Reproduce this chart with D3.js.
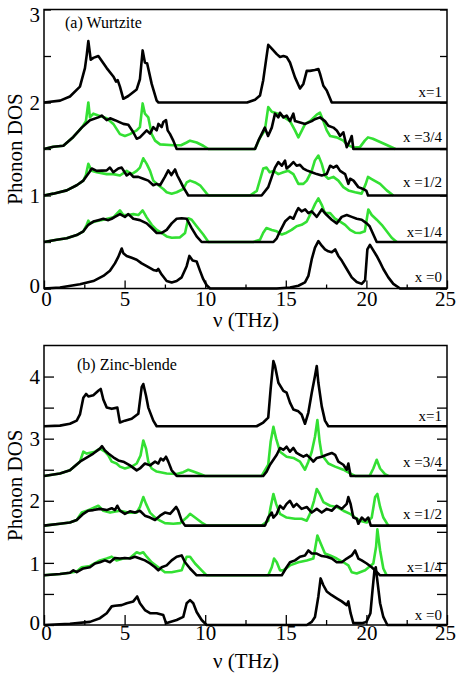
<!DOCTYPE html>
<html>
<head>
<meta charset="utf-8" />
<title>Phonon DOS</title>
<script src="https://cdnjs.cloudflare.com/ajax/libs/d3/7.8.5/d3.min.js"></script>
<style>
  body { margin: 0; background: #fff; }
  text { font-family: "Liberation Serif", "Times New Roman", serif; }
</style>
</head>
<body>
<div id="chart"></div>
<script>
// ---- data: [frequency (THz), DOS above the curve's baseline] ----
const compositions = ["x=1", "x =3/4", "x =1/2", "x=1/4", "x =0"];
const wzOffsets = [2, 1.5, 1, 0.5, 0];
const zbOffsets = [3.2, 2.4, 1.6, 0.8, 0];
const xTicks = [0, 5, 10, 15, 20, 25];

// (a) Wurtzite
const wzBlack1 = [[0,0],[1.0,0.02],[1.61,0.065],[2.23,0.17],[2.54,0.37],[2.65,0.51],[2.75,0.66],[2.9,0.46],[3.06,0.48],[3.37,0.5],[3.89,0.37],[4.3,0.28],[4.47,0.225],[4.57,0.24],[4.71,0.17],[4.92,0.04],[5.23,0.07],[5.75,0.14],[5.95,0.25],[6.12,0.56],[6.26,0.43],[6.4,0.42],[6.68,0.2],[6.99,0.02],[7.1,0],[12.6,0],[13.09,0.03],[13.4,0.075],[13.6,0.24],[13.77,0.45],[13.91,0.62],[14.13,0.58],[14.44,0.52],[14.64,0.49],[14.85,0.5],[15.05,0.49],[15.26,0.43],[15.57,0.27],[15.88,0.15],[16.09,0.2],[16.3,0.34],[16.5,0.34],[16.8,0.35],[17.02,0.36],[17.12,0.31],[17.33,0.18],[17.54,0.13],[17.85,0],[25,0]];
const wzBlack34 = [[0,0],[0.58,0.025],[1.2,0.035],[1.82,0.13],[2.34,0.23],[2.85,0.31],[3.37,0.34],[3.58,0.36],[3.89,0.31],[4.1,0.33],[4.4,0.31],[4.92,0.27],[5.23,0.26],[5.54,0.18],[5.75,0.11],[5.95,0.125],[6.37,0.2],[6.58,0.165],[6.78,0.235],[6.99,0.2],[7.1,0.27],[7.3,0.235],[7.4,0.29],[7.57,0.31],[7.67,0.2],[7.82,0.16],[8.02,0.09],[8.23,0],[13.09,0],[13.3,0.09],[13.5,0.16],[13.7,0.23],[13.9,0.14],[14.13,0.23],[14.33,0.38],[14.54,0.34],[14.64,0.39],[14.85,0.34],[15.05,0.36],[15.26,0.3],[15.47,0.38],[15.57,0.3],[15.78,0.29],[16.2,0.27],[16.61,0.3],[16.8,0.32],[17.12,0.34],[17.43,0.3],[17.64,0.25],[17.95,0.23],[18.16,0.2],[18.37,0.14],[18.57,0.18],[18.78,0.02],[18.98,0.09],[19.09,0.14],[19.19,0],[25,0]];
const wzGreen34 = [[0,0],[0.58,0.025],[1.2,0.035],[1.82,0.13],[2.34,0.23],[2.6,0.3],[2.75,0.5],[2.85,0.34],[3.06,0.38],[3.37,0.36],[3.89,0.33],[4.3,0.27],[4.71,0.16],[5.02,0.14],[5.33,0.16],[5.75,0.2],[5.95,0.235],[6.12,0.49],[6.26,0.38],[6.47,0.34],[6.68,0.16],[6.89,0.09],[7.2,0.05],[8.02,0.04],[8.5,0.04],[8.85,0.07],[9.06,0.09],[9.47,0.07],[9.88,0.035],[10.2,0],[13.09,0],[13.4,0.12],[13.7,0.2],[13.91,0.45],[14.13,0.4],[14.33,0.39],[14.64,0.37],[15.26,0.3],[15.57,0.2],[15.78,0.125],[16.0,0.2],[16.2,0.27],[16.5,0.3],[16.92,0.37],[17.12,0.39],[17.33,0.3],[17.54,0.2],[17.75,0.14],[18.16,0.125],[18.57,0.09],[18.78,0.05],[19.19,0.015],[19.6,0.02],[19.9,0.09],[20.1,0.125],[20.4,0.11],[20.85,0.075],[21.3,0.04],[21.8,0]];
const wzBlack12 = [[0,0],[0.58,0.02],[1.41,0.055],[2.03,0.11],[2.44,0.16],[2.81,0.25],[2.96,0.29],[3.27,0.265],[3.89,0.27],[4.09,0.3],[4.3,0.25],[4.61,0.29],[4.82,0.3],[5.13,0.215],[5.33,0.24],[5.54,0.2],[5.85,0.2],[6.16,0.18],[6.47,0.16],[6.78,0.11],[6.99,0.125],[7.2,0.11],[7.5,0.2],[7.71,0.27],[7.9,0.22],[8.13,0.28],[8.27,0.215],[8.44,0.16],[8.64,0.09],[8.95,0],[13.5,0],[13.91,0.09],[14.13,0.2],[14.33,0.3],[14.54,0.36],[14.75,0.32],[14.95,0.375],[15.05,0.29],[15.26,0.32],[15.47,0.36],[15.67,0.32],[15.88,0.33],[16.09,0.29],[16.3,0.27],[16.61,0.25],[16.92,0.23],[17.23,0.215],[17.54,0.23],[17.75,0.32],[17.95,0.3],[18.16,0.32],[18.37,0.265],[18.68,0.23],[18.88,0.125],[18.99,0.18],[19.2,0.16],[19.5,0.09],[19.8,0.07],[20.0,0.05],[20.1,0],[25,0]];
const wzGreen12 = [[0,0],[0.58,0.02],[1.41,0.055],[2.03,0.11],[2.44,0.16],[2.6,0.22],[2.75,0.34],[2.95,0.265],[3.27,0.25],[3.89,0.23],[4.3,0.23],[4.71,0.215],[5.13,0.265],[5.44,0.23],[5.75,0.265],[5.95,0.3],[6.16,0.4],[6.37,0.34],[6.58,0.265],[6.78,0.16],[7.1,0.11],[7.4,0.07],[7.61,0.035],[7.92,0.02],[8.23,0.035],[8.64,0.07],[8.85,0.14],[9.06,0.16],[9.37,0.14],[9.68,0.11],[10.1,0.02],[10.2,0],[12.78,0],[13.2,0.05],[13.6,0.29],[13.8,0.3],[14.0,0.25],[14.23,0.265],[14.54,0.23],[14.85,0.25],[15.16,0.265],[15.47,0.23],[15.78,0.125],[16.09,0.125],[16.3,0.16],[16.61,0.265],[16.8,0.375],[17.02,0.43],[17.23,0.34],[17.43,0.215],[17.64,0.18],[17.95,0.2],[18.26,0.16],[18.57,0.09],[18.88,0.055],[19.3,0.035],[19.7,0.02],[19.96,0.125],[20.1,0.2],[20.3,0.18],[20.85,0.125],[21.26,0.055],[21.67,0]];
const wzBlack14 = [[0,0],[0.79,0.025],[1.41,0.04],[2.03,0.075],[2.44,0.115],[2.75,0.185],[3.06,0.22],[3.37,0.235],[3.68,0.25],[3.99,0.235],[4.2,0.25],[4.4,0.27],[4.71,0.3],[5.02,0.27],[5.23,0.3],[5.54,0.25],[5.95,0.235],[6.37,0.2],[6.68,0.15],[6.99,0.097],[7.3,0.097],[7.61,0.13],[7.92,0.2],[8.23,0.25],[8.54,0.255],[8.85,0.25],[9.16,0.15],[9.47,0.06],[9.78,0],[14.23,0],[14.44,0.04],[14.64,0.115],[14.95,0.22],[15.26,0.27],[15.47,0.25],[15.67,0.33],[15.78,0.365],[15.98,0.33],[16.2,0.35],[16.4,0.31],[16.61,0.33],[16.92,0.27],[17.23,0.35],[17.54,0.29],[17.85,0.24],[18.16,0.2],[18.47,0.27],[18.78,0.29],[19.09,0.27],[19.4,0.25],[19.71,0.24],[20.02,0.2],[20.2,0.17],[20.43,0.08],[20.64,0],[25,0]];
const wzGreen14 = [[0,0],[0.79,0.025],[1.41,0.04],[2.03,0.075],[2.44,0.115],[2.65,0.185],[2.75,0.23],[2.85,0.2],[3.16,0.22],[3.68,0.24],[4.3,0.265],[4.71,0.34],[4.92,0.29],[5.23,0.29],[5.54,0.3],[5.85,0.29],[6.12,0.34],[6.37,0.265],[6.68,0.185],[6.99,0.13],[7.3,0.097],[7.61,0.06],[7.92,0.045],[8.44,0.05],[8.75,0.097],[8.95,0.255],[9.16,0.24],[9.47,0.17],[9.88,0.08],[10.2,0],[12.98,0],[13.4,0.025],[13.6,0.1],[13.8,0.15],[14.13,0.13],[14.44,0.115],[14.75,0.08],[15.05,0.1],[15.36,0.13],[15.67,0.17],[15.98,0.185],[16.3,0.22],[16.61,0.33],[16.82,0.41],[17.02,0.47],[17.23,0.4],[17.43,0.31],[17.75,0.31],[18.06,0.25],[18.37,0.22],[18.68,0.185],[18.99,0.13],[19.3,0.1],[19.6,0.097],[19.9,0.115],[20.12,0.35],[20.33,0.29],[20.64,0.24],[20.95,0.185],[21.26,0.115],[21.57,0.045],[21.88,0]];
const wzBlack0 = [[0,0],[0.99,0.01],[2.23,0.045],[3.06,0.08],[3.68,0.135],[4.09,0.19],[4.4,0.27],[4.61,0.34],[4.82,0.43],[4.92,0.38],[5.13,0.35],[5.44,0.33],[5.75,0.31],[6.06,0.27],[6.37,0.24],[6.78,0.2],[6.99,0.19],[7.09,0.21],[7.3,0.15],[7.61,0.08],[7.92,0.065],[8.23,0.08],[8.54,0.12],[8.85,0.24],[9.02,0.35],[9.22,0.3],[9.47,0.29],[9.68,0.19],[9.88,0.1],[10.09,0.035],[10.3,0],[14.43,0],[15.26,0.01],[15.78,0.03],[16.19,0.065],[16.4,0.135],[16.61,0.315],[16.81,0.44],[17.02,0.51],[17.23,0.46],[17.43,0.42],[17.64,0.4],[17.85,0.39],[18.06,0.42],[18.26,0.35],[18.47,0.3],[18.78,0.21],[19.09,0.12],[19.4,0.07],[19.71,0.05],[19.92,0.09],[20.06,0.42],[20.22,0.47],[20.39,0.42],[20.64,0.35],[20.85,0.28],[21.05,0.21],[21.36,0.12],[21.67,0.05],[22.09,0],[25,0]];

// (b) Zinc-blende
const zbBlack1 = [[0,0],[0.99,0.01],[1.61,0.04],[2.03,0.09],[2.23,0.19],[2.44,0.46],[2.61,0.52],[2.75,0.48],[3.06,0.5],[3.37,0.57],[3.52,0.6],[3.68,0.43],[3.89,0.3],[4.2,0.28],[4.55,0.3],[4.71,0.06],[5.02,0.09],[5.44,0.12],[5.85,0.2],[6.06,0.63],[6.16,0.68],[6.33,0.49],[6.47,0.3],[6.78,0.09],[6.99,0],[13.19,0],[13.6,0.06],[13.91,0.14],[14.06,0.6],[14.23,1.05],[14.33,0.97],[14.54,0.7],[14.85,0.57],[15.05,0.54],[15.26,0.38],[15.47,0.27],[15.78,0.24],[15.98,0.19],[16.19,0.04],[16.4,0.22],[16.61,0.54],[16.81,0.81],[16.92,0.97],[17.02,0.7],[17.23,0.32],[17.43,0.09],[17.64,0],[25,0]];
const zbBlack34 = [[0,0],[0.99,0.04],[1.61,0.09],[2.23,0.23],[3.06,0.36],[3.47,0.44],[3.6,0.48],[3.78,0.41],[3.99,0.36],[4.3,0.3],[4.61,0.25],[4.92,0.23],[5.33,0.17],[5.75,0.09],[5.95,0.12],[6.26,0.2],[6.58,0.17],[6.89,0.23],[7.09,0.2],[7.24,0.28],[7.4,0.25],[7.57,0.31],[7.71,0.23],[7.92,0.09],[8.23,0],[13.6,0],[13.81,0.07],[14.02,0.18],[14.23,0.26],[14.44,0.34],[14.64,0.45],[14.85,0.42],[15.05,0.47],[15.26,0.39],[15.47,0.45],[15.67,0.37],[15.88,0.34],[16.09,0.31],[16.3,0.34],[16.5,0.29],[16.71,0.23],[16.92,0.29],[17.23,0.31],[17.54,0.34],[17.85,0.37],[18.06,0.34],[18.26,0.23],[18.57,0.18],[18.78,0.1],[18.88,0.2],[19.02,0],[25,0]];
const zbGreen34 = [[0,0],[0.99,0.04],[1.61,0.09],[2.23,0.23],[2.44,0.39],[2.65,0.36],[3.16,0.39],[3.47,0.44],[3.78,0.39],[3.99,0.33],[4.2,0.23],[4.5,0.2],[4.71,0.15],[5.02,0.12],[5.44,0.15],[5.75,0.2],[5.99,0.33],[6.16,0.57],[6.33,0.44],[6.47,0.23],[6.68,0.12],[6.99,0.07],[7.61,0.04],[8.23,0.03],[8.64,0.06],[8.95,0.1],[9.26,0.07],[9.68,0.03],[9.99,0],[13.5,0],[13.91,0.18],[14.06,0.55],[14.23,0.79],[14.4,0.6],[14.64,0.39],[15.05,0.31],[15.47,0.29],[15.88,0.23],[16.19,0.1],[16.4,0.23],[16.61,0.39],[16.81,0.63],[16.96,0.9],[17.1,0.55],[17.23,0.34],[17.64,0.2],[18.06,0.15],[18.57,0.1],[18.99,0.04],[19.3,0],[20.2,0],[20.43,0.12],[20.64,0.26],[20.85,0.12],[21.15,0.03],[21.36,0]];
const zbBlack12 = [[0,0],[0.99,0.03],[1.61,0.05],[2.03,0.09],[2.44,0.19],[2.75,0.24],[3.06,0.25],[3.47,0.27],[3.89,0.25],[4.2,0.28],[4.4,0.25],[4.55,0.32],[4.71,0.24],[5.02,0.19],[5.33,0.23],[5.64,0.21],[5.95,0.24],[6.26,0.16],[6.58,0.13],[6.89,0.09],[7.2,0.16],[7.5,0.21],[7.82,0.19],[8.2,0.3],[8.33,0.24],[8.54,0.08],[8.75,0],[13.71,0],[13.91,0.13],[14.13,0.21],[14.23,0.13],[14.44,0.19],[14.64,0.32],[14.85,0.27],[15.05,0.35],[15.26,0.4],[15.47,0.3],[15.67,0.35],[15.98,0.27],[16.3,0.3],[16.61,0.21],[16.92,0.27],[17.23,0.21],[17.54,0.27],[17.85,0.24],[18.16,0.32],[18.47,0.27],[18.78,0.35],[18.88,0.46],[19.02,0.35],[19.19,0.13],[19.4,0.11],[19.5,0.03],[19.71,0.13],[19.92,0.08],[20.12,0.13],[20.27,0],[25,0]];
const zbGreen12 = [[0,0],[0.99,0.03],[1.61,0.05],[2.03,0.09],[2.34,0.21],[2.75,0.25],[3.37,0.32],[3.68,0.24],[4.1,0.21],[4.71,0.24],[5.23,0.21],[5.75,0.21],[5.95,0.3],[6.16,0.46],[6.33,0.35],[6.58,0.21],[6.89,0.13],[7.2,0.08],[7.5,0.04],[8.02,0.03],[8.44,0.04],[8.85,0.13],[9.06,0.19],[9.37,0.13],[9.78,0.05],[10.09,0],[13.5,0],[13.91,0.08],[14.06,0.3],[14.23,0.51],[14.4,0.35],[14.64,0.19],[15.05,0.13],[15.57,0.11],[15.98,0.11],[16.3,0.08],[16.5,0.19],[16.75,0.4],[16.92,0.59],[17.1,0.51],[17.33,0.38],[17.75,0.32],[18.16,0.3],[18.57,0.24],[18.99,0.19],[19.3,0.13],[19.6,0.08],[20.02,0.05],[20.33,0.13],[20.54,0.46],[20.68,0.51],[20.85,0.3],[21.05,0.13],[21.36,0]];
const zbBlack14 = [[0,0],[0.99,0.02],[1.61,0.04],[1.82,0.08],[2.03,0.05],[2.44,0.11],[2.85,0.13],[3.16,0.19],[3.47,0.21],[3.78,0.24],[4.09,0.21],[4.4,0.28],[4.71,0.27],[5.02,0.28],[5.33,0.27],[5.64,0.3],[5.95,0.27],[6.26,0.24],[6.58,0.19],[6.89,0.13],[7.09,0.08],[7.3,0.13],[7.61,0.16],[7.92,0.24],[8.23,0.3],[8.54,0.32],[8.75,0.21],[9.06,0.11],[9.47,0],[14.75,0],[15.05,0.13],[15.26,0.21],[15.57,0.24],[15.88,0.3],[16.19,0.32],[16.4,0.4],[16.61,0.35],[16.92,0.35],[17.23,0.31],[17.54,0.3],[17.85,0.27],[18.16,0.21],[18.47,0.21],[18.78,0.27],[19.09,0.32],[19.3,0.4],[19.5,0.27],[19.71,0.24],[20.02,0.19],[20.33,0.13],[20.54,0.08],[20.85,0],[25,0]];
const zbGreen14 = [[0,0],[0.99,0.02],[1.61,0.04],[2.03,0.06],[2.34,0.13],[2.85,0.15],[3.47,0.24],[3.89,0.27],[4.2,0.3],[4.5,0.24],[4.92,0.27],[5.33,0.28],[5.75,0.37],[5.95,0.35],[6.16,0.37],[6.37,0.3],[6.68,0.21],[7.09,0.13],[7.5,0.05],[7.92,0.05],[8.54,0.08],[8.85,0.3],[9.06,0.3],[9.37,0.19],[9.78,0.08],[10.09,0],[13.91,0],[14.13,0.13],[14.27,0.27],[14.44,0.21],[14.64,0.08],[14.85,0.08],[15.26,0.16],[15.78,0.21],[16.3,0.24],[16.71,0.27],[16.96,0.64],[17.12,0.54],[17.43,0.35],[17.75,0.32],[18.16,0.27],[18.57,0.21],[18.88,0.16],[19.09,0.05],[19.4,0.03],[19.92,0.08],[20.43,0.19],[20.6,0.46],[20.68,0.74],[20.85,0.4],[21.05,0.11],[21.26,0]];
const zbBlack0 = [[0,0],[1.61,0.02],[2.85,0.05],[3.47,0.11],[3.89,0.19],[4.2,0.3],[4.4,0.31],[4.82,0.32],[5.13,0.35],[5.54,0.38],[5.78,0.46],[5.95,0.35],[6.26,0.24],[6.58,0.19],[6.99,0.19],[7.4,0.16],[7.57,0.03],[7.82,0.05],[8.23,0.08],[8.64,0.13],[8.85,0.35],[9.06,0.4],[9.26,0.35],[9.47,0.21],[9.78,0.08],[10.09,0],[16.3,0],[16.61,0.05],[16.81,0.13],[17.02,0.46],[17.16,0.75],[17.33,0.64],[17.54,0.54],[17.85,0.48],[18.16,0.43],[18.47,0.38],[18.78,0.32],[18.88,0.38],[19.02,0.19],[19.19,0.03],[19.71,0.03],[20.0,0.05],[20.25,0.19],[20.38,0.56],[20.5,0.88],[20.58,0.93],[20.7,0.67],[20.85,0.35],[21.05,0.13],[21.3,0],[25,0]];

const wzBlack = [wzBlack1, wzBlack34, wzBlack12, wzBlack14, wzBlack0];
const wzGreen = [null, wzGreen34, wzGreen12, wzGreen14, null];
const zbBlack = [zbBlack1, zbBlack34, zbBlack12, zbBlack14, zbBlack0];
const zbGreen = [null, zbGreen34, zbGreen12, zbGreen14, null];

const green = "#33e033";
const serif = "'Liberation Serif', 'Times New Roman', serif";

const svg = d3.select("#chart").append("svg")
  .attr("width", 456)
  .attr("height", 675);

const x = d3.scaleLinear().domain([0, 25]).range([44, 447]);

function drawPanel(opt) {
  const y = d3.scaleLinear().domain([0, opt.ymax]).range([opt.y0, opt.ytop]);
  const g = svg.append("g");

  // x ticks (inside, bottom only)
  g.append("g")
    .attr("transform", `translate(0,${opt.y0})`)
    .call(d3.axisBottom(x).tickValues(xTicks).tickSizeInner(-opt.major).tickSizeOuter(0).tickPadding(opt.xpad))
    .call(a => a.select(".domain").remove())
    .call(a => a.selectAll("text").attr("font-size", 21).attr("fill", "#000")
      .style("font-family", serif)
      .attr("dx", d => d === 25 ? -2 : (d === 0 ? 2 : 0)));
  g.append("g")
    .attr("transform", `translate(0,${opt.y0})`)
    .call(d3.axisBottom(x).tickValues([2.5, 7.5, 12.5, 17.5, 22.5]).tickSize(-opt.minor).tickFormat(""))
    .call(a => a.select(".domain").remove());

  // y ticks (inside, left and right)
  g.append("g")
    .attr("transform", `translate(${x(0)},0)`)
    .call(d3.axisLeft(y).tickValues(opt.yTicks).tickSizeInner(-opt.ytick).tickSizeOuter(0).tickPadding(4)
      .tickFormat(d => Number.isInteger(d) ? d : ""))
    .call(a => a.select(".domain").remove())
    .call(a => a.selectAll("text").attr("font-size", 21).attr("fill", "#000")
      .style("font-family", serif)
      .attr("dy", d => d === opt.ymax ? "0.55em" : (d === 0 ? "0.2em" : "0.34em")));
  g.append("g")
    .attr("transform", `translate(${x(25)},0)`)
    .call(d3.axisRight(y).tickValues(opt.yTicks).tickSizeInner(-opt.ytick).tickSizeOuter(0).tickFormat(""))
    .call(a => a.select(".domain").remove());
  g.selectAll(".tick line").attr("stroke", "#000").attr("stroke-width", 1.3);

  // curves
  const line = off => d3.line().x(d => x(d[0])).y(d => y(d[1] + off));
  opt.green.forEach((s, i) => {
    if (!s) return;
    g.append("path").datum(s)
      .attr("d", line(opt.offsets[i]))
      .attr("fill", "none").attr("stroke", green)
      .attr("stroke-width", 2.6).attr("stroke-linejoin", "round");
  });
  opt.black.forEach((s, i) => {
    g.append("path").datum(s)
      .attr("d", line(opt.offsets[i]))
      .attr("fill", "none").attr("stroke", "#000")
      .attr("stroke-width", 2.6).attr("stroke-linejoin", "round");
  });

  // frame
  g.append("rect")
    .attr("x", x(0)).attr("y", opt.ytop)
    .attr("width", x(25) - x(0)).attr("height", opt.y0 - opt.ytop)
    .attr("fill", "none").attr("stroke", "#000").attr("stroke-width", 1.5);

  // composition labels
  g.selectAll(".comp").data(compositions).join("text")
    .attr("class", "comp")
    .attr("x", 442)
    .attr("y", (d, i) => opt.labelY[i])
    .attr("text-anchor", "end")
    .attr("font-size", 15)
    .text(d => d);

  // panel title
  g.append("text")
    .attr("x", opt.titleX).attr("y", opt.titleY)
    .attr("font-size", 16)
    .text(opt.title);

  // axis titles
  g.append("text")
    .attr("x", 246).attr("y", opt.xlabelY)
    .attr("text-anchor", "middle")
    .attr("font-size", 21)
    .text("\u03bd (THz)");
  g.append("text")
    .attr("transform", `translate(22,${(opt.y0 + opt.ytop) / 2}) rotate(-90)`)
    .attr("text-anchor", "middle")
    .attr("font-size", 21)
    .text("Phonon DOS");
}

drawPanel({
  ymax: 3, y0: 288.5, ytop: 9.5,
  yTicks: [0, 0.5, 1, 1.5, 2, 2.5, 3], ytick: 7,
  major: 8, minor: 4, xpad: 3,
  offsets: wzOffsets, black: wzBlack, green: wzGreen,
  labelY: [97, 142, 187, 237, 282],
  title: "(a) Wurtzite", titleX: 65, titleY: 28,
  xlabelY: 327
});

drawPanel({
  ymax: 4.5, y0: 625, ytop: 345.5,
  yTicks: [0, 0.5, 1, 1.5, 2, 2.5, 3, 3.5, 4], ytick: 10,
  major: 10, minor: 5, xpad: 0,
  offsets: zbOffsets, black: zbBlack, green: zbGreen,
  labelY: [421, 467, 519, 572, 620],
  title: "(b) Zinc-blende", titleX: 77, titleY: 370,
  xlabelY: 668
});
</script>
</body>
</html>
